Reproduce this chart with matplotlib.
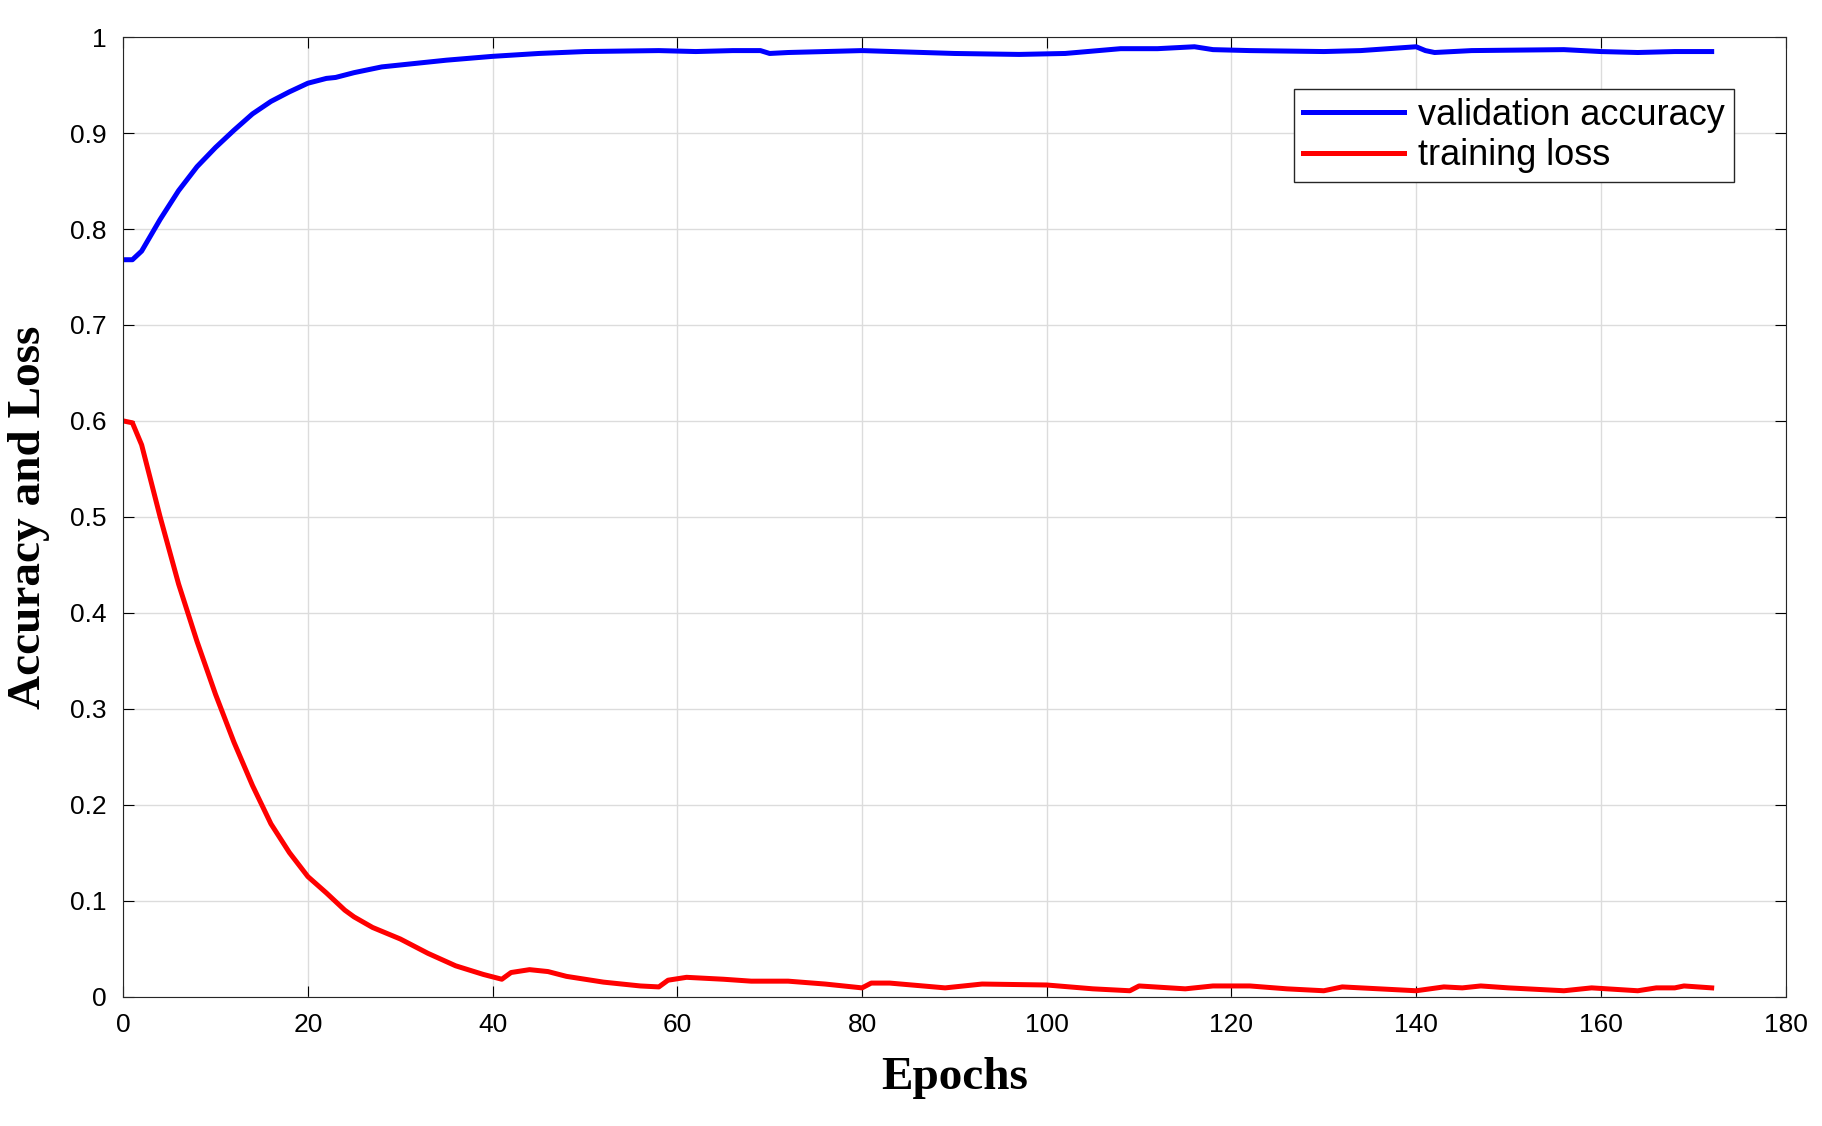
import matplotlib
matplotlib.use("Agg")
import matplotlib.pyplot as plt
import numpy as np

# values
acc_epoch = [0, 1, 2, 4, 6, 8, 10, 12, 14, 16, 18, 20, 22, 23, 25, 28, 30, 35, 40, 45, 50, 58,
             62, 66, 69, 70, 72, 80, 90, 97, 102, 108, 112, 116, 118, 122, 130, 134, 140, 141,
             142, 146, 156, 160, 164, 168, 172]
acc = [0.768, 0.768, 0.777, 0.81, 0.84, 0.865, 0.885, 0.903, 0.92, 0.933, 0.943, 0.952, 0.957,
       0.958, 0.963, 0.969, 0.971, 0.976, 0.98, 0.983, 0.985, 0.986, 0.985, 0.986, 0.986, 0.983,
       0.984, 0.986, 0.983, 0.982, 0.983, 0.988, 0.988, 0.99, 0.987, 0.986, 0.985, 0.986, 0.99,
       0.986, 0.984, 0.986, 0.987, 0.985, 0.984, 0.985, 0.985]

loss_epoch = [0, 1, 2, 4, 6, 8, 10, 12, 14, 16, 18, 20, 22, 24, 25, 27, 30, 33, 36, 39, 41, 42,
              44, 46, 48, 52, 56, 58, 59, 61, 65, 68, 72, 76, 80, 81, 83, 89, 93, 100, 105, 109,
              110, 115, 118, 122, 126, 130, 132, 136, 140, 143, 145, 147, 150, 156, 159, 164,
              166, 168, 169, 172]
loss = [0.6, 0.598, 0.575, 0.5, 0.43, 0.37, 0.315, 0.265, 0.22, 0.18, 0.15, 0.125, 0.108, 0.09,
        0.083, 0.072, 0.06, 0.045, 0.032, 0.023, 0.018, 0.025, 0.028, 0.026, 0.021, 0.015, 0.011,
        0.01, 0.017, 0.02, 0.018, 0.016, 0.016, 0.013, 0.009, 0.014, 0.014, 0.009, 0.013, 0.012,
        0.008, 0.006, 0.011, 0.008, 0.011, 0.011, 0.008, 0.006, 0.01, 0.008, 0.006, 0.01, 0.009,
        0.011, 0.009, 0.006, 0.009, 0.006, 0.009, 0.009, 0.011, 0.009]

fig = plt.figure(figsize=(18.22, 11.26), dpi=100)
ax = fig.add_axes([0.0676, 0.115, 0.9124, 0.852])

ax.plot(acc_epoch, acc, color='#0000ff', lw=3.6, label='validation accuracy')
ax.plot(loss_epoch, loss, color='#ff0000', lw=3.6, label='training loss')

ax.set_xlim(0, 180)
ax.set_ylim(0, 1)
ax.set_xticks(np.arange(0, 181, 20))
ax.set_yticks(np.arange(0, 1.01, 0.1))
ax.set_yticklabels(['0', '0.1', '0.2', '0.3', '0.4', '0.5', '0.6', '0.7', '0.8', '0.9', '1'])
ax.grid(True, color='#dcdcdc', lw=1)
ax.tick_params(direction='in', top=True, right=True, length=8, labelsize=19, pad=12)
for lab in ax.get_xticklabels() + ax.get_yticklabels():
    lab.set_family('Liberation Sans')
for s in ax.spines.values():
    s.set_color('#262626')

ax.set_xlabel('Epochs', fontsize=34, fontweight='bold', family='Liberation Serif', labelpad=14)
ax.set_ylabel('Accuracy and Loss', fontsize=34, fontweight='bold', family='Liberation Serif', labelpad=14)

leg = ax.legend(loc='upper right', bbox_to_anchor=(0.98, 0.965), fancybox=False,
                prop={'family': 'Liberation Sans', 'size': 26}, handlelength=2.8,
                handletextpad=0.4, borderpad=0.25, labelspacing=0.15, framealpha=1)
leg.get_frame().set_edgecolor('#262626')

fig.savefig('out.png')
